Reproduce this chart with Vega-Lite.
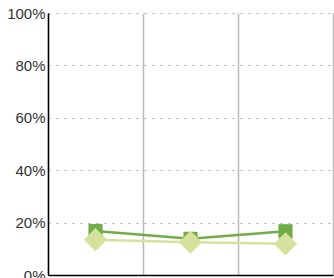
{
  "$schema": "https://vega.github.io/schema/vega-lite/v6.json",
  "autosize": {"type": "none"},
  "width": 285,
  "height": 262,
  "padding": {"left": 48, "top": 13, "right": 1, "bottom": 3},
  "background": "white",
  "config": {"view": {"stroke": null}, "font": "Liberation Sans"},
  "data": {"values": [
    {"cat": "A", "series": "S1", "value": 0.168},
    {"cat": "B", "series": "S1", "value": 0.138},
    {"cat": "C", "series": "S1", "value": 0.167},
    {"cat": "A", "series": "S2", "value": 0.135},
    {"cat": "B", "series": "S2", "value": 0.125},
    {"cat": "C", "series": "S2", "value": 0.119}
  ]},
  "encoding": {
    "x": {"field": "cat", "type": "nominal", "scale": {"paddingInner": 0, "paddingOuter": 0},
      "axis": {"title": null, "labels": false, "ticks": false, "grid": true, "tickBand": "extent", "gridColor": "#b8b8b8", "gridWidth": 1.5, "domainColor": "#000", "domainWidth": 1.5}},
    "y": {"field": "value", "type": "quantitative", "scale": {"domain": [0, 1]},
      "axis": {"title": null, "format": ".0%", "values": [0, 0.2, 0.4, 0.6, 0.8, 1], "ticks": false, "labelPadding": 3, "labelFontSize": 15, "labelColor": "#333", "grid": true, "gridDash": [2, 6], "gridColor": "#a8a8a8", "domainColor": "#000", "domainWidth": 1.5}},
    "color": {"field": "series", "type": "nominal", "scale": {"domain": ["S1", "S2"], "range": ["#70ad47", "#d6e29c"]}, "legend": null}
  },
  "layer": [
    {"transform": [{"filter": "datum.series === 'S1'"}], "mark": {"type": "line", "strokeWidth": 2.5}},
    {"transform": [{"filter": "datum.series === 'S1'"}], "mark": {"type": "point", "shape": "square", "filled": true, "size": 200, "opacity": 1}},
    {"transform": [{"filter": "datum.series === 'S2'"}], "mark": {"type": "line", "strokeWidth": 2.5}},
    {"transform": [{"filter": "datum.series === 'S2'"}], "mark": {"type": "point", "shape": "diamond", "filled": true, "size": 540, "opacity": 1}}
  ]
}
